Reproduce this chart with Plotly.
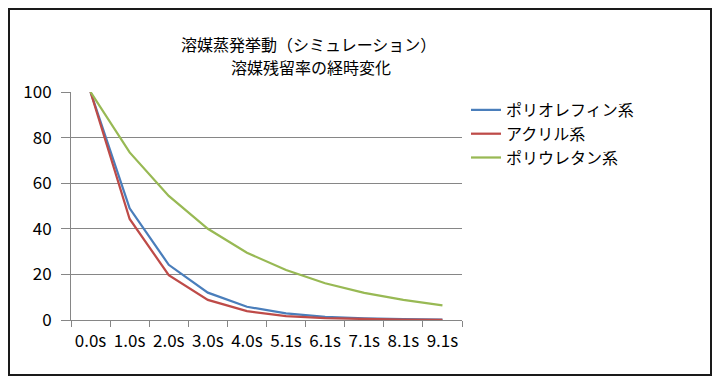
import plotly.graph_objects as go

categories = ["0.0s", "1.0s", "2.0s", "3.0s", "4.0s", "5.1s", "6.1s", "7.1s", "8.1s", "9.1s"]
polyolefin = [100, 49, 24.2, 12, 5.8, 2.9, 1.4, 0.7, 0.35, 0.17]
acrylic = [100, 44.3, 19.7, 8.8, 3.9, 1.7, 0.77, 0.34, 0.15, 0.07]
polyurethane = [100, 73.5, 54.4, 40, 29.5, 21.9, 16.1, 11.9, 8.8, 6.4]
series_names = ["ポリオレフィン系", "アクリル系", "ポリウレタン系"]
series_colors = ["#4A7EBB", "#BE4B48", "#98B954"]
y_ticks = [0, 20, 40, 60, 80, 100]
title_lines = ["溶媒蒸発挙動（シミュレーション）", "溶媒残留率の経時変化"]

FONT = "Noto Sans CJK JP"

fig = go.Figure()
for name, vals, col in zip(series_names, [polyolefin, acrylic, polyurethane], series_colors):
    fig.add_trace(go.Scatter(x=categories, y=vals, mode="lines", name=name,
                             line=dict(color=col, width=2.25)))

# page has an 8px body margin
O = 8
W, H = 720 - O, 383 - O
# plot area in page pixels
PL, PR, PT, PB = 71, 462, 92, 320
L, T = PL - O, PT - O
R = W - (PR - O)
B = H - (PB - O)
pw, ph = PR - PL, PB - PT

def px_x(p):
    return (p - PL) / pw

def px_y(p):
    return (PB - p) / ph

annotations = []
for line_text, cx, cy in zip(title_lines, [308, 311], [44, 67]):
    annotations.append(dict(text=line_text, xref="paper", yref="paper",
                            x=px_x(cx), y=px_y(cy), xanchor="center", yanchor="middle",
                            showarrow=False,
                            font=dict(family=FONT, size=16, color="#000000")))

fig.update_layout(
    width=W, height=H,
    margin=dict(l=L, r=R, t=T, b=B),
    paper_bgcolor="white", plot_bgcolor="white",
    font=dict(family=FONT, size=17, color="#000000"),
    annotations=annotations,
    showlegend=True,
    legend=dict(x=px_x(466), y=px_y(93), xanchor="left", yanchor="top",
                font=dict(family=FONT, size=16, color="#000000"),
                bgcolor="rgba(0,0,0,0)", tracegroupgap=0, itemwidth=30),
    xaxis=dict(type="category", range=[-0.5, 9.5], tickson="boundaries",
               ticks="outside", ticklen=6, tickcolor="#868686", tickangle=0,
               showline=True, linecolor="#868686", linewidth=1,
               showgrid=False, zeroline=False, ticklabelstandoff=6,
               tickfont=dict(family=FONT, size=17)),
    yaxis=dict(range=[0, 100], tickvals=y_ticks, ticks="outside", ticklen=9,
               tickcolor="#868686", showline=True, linecolor="#868686",
               showgrid=True, gridcolor="#868686", gridwidth=1, zeroline=False,
               ticklabelstandoff=6, tickfont=dict(family=FONT, size=17)),
    shapes=[dict(type="rect", xref="paper", yref="paper",
                 x0=px_x(9), x1=px_x(711), y0=px_y(375), y1=px_y(9),
                 line=dict(color="#1a1a1a", width=2), fillcolor="rgba(0,0,0,0)",
                 layer="above")],
)

fig.write_html("out.html")
